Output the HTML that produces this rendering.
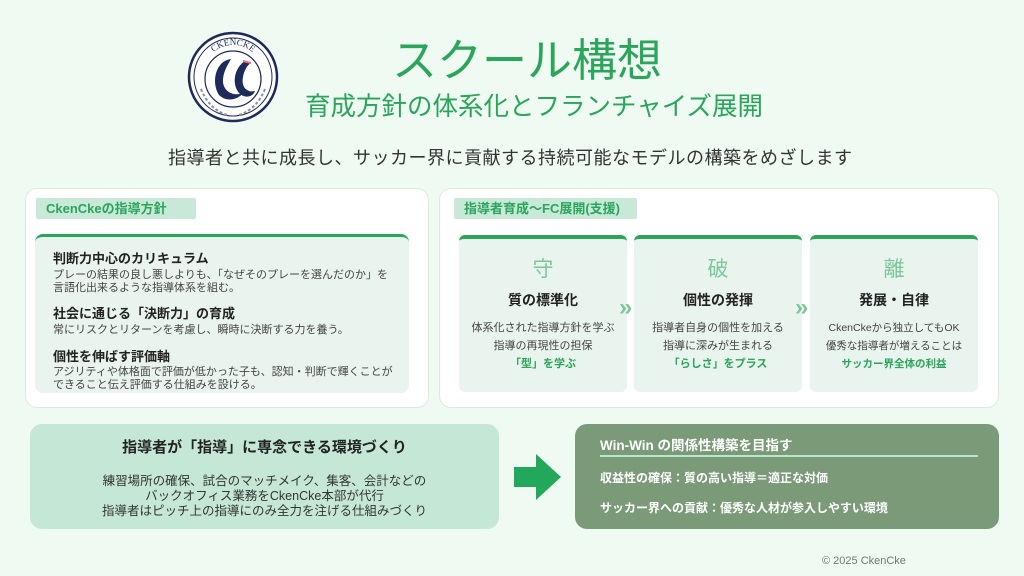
<!DOCTYPE html>
<html><head><meta charset="utf-8"><style>
*{margin:0;padding:0;box-sizing:border-box}
body{width:1024px;height:576px;background:#eefaf2;position:relative;overflow:hidden;font-family:"Liberation Sans","Noto Sans CJK JP",sans-serif;color:#222}
.a{position:absolute;white-space:nowrap}
.c{text-align:center}
.panel{position:absolute;background:#fff;border:1px solid #dcebe2;border-radius:12px}
.lbl{position:absolute;background:#c8e8d8;color:#2aa55a;font-weight:bold;font-size:13px;line-height:21px;padding-left:10px;border-radius:2px}
.inner{position:absolute;background:#eaf4ee;border-top:3px solid #2aa55a;border-radius:8px}
.h{font-weight:bold;font-size:13px;color:#222;line-height:16px}
.b{font-size:11px;color:#444;line-height:12.5px}
.card{position:absolute;top:235px;width:168px;height:157px;background:#eaf4ee;border-top:4px solid #2aa55a;border-radius:6px;text-align:center}
.k{position:absolute;left:0;right:0;top:14px;font-size:21px;color:#7cc79a}
.t{position:absolute;left:0;right:0;top:51px;font-size:14px;font-weight:bold}
.cb{position:absolute;left:0;right:0;top:80px;font-size:11px;color:#444;line-height:18px}
.g{color:#2aa55a;font-weight:bold}
.chev{position:absolute;top:294px;font-size:24px;color:#7cc79a;font-weight:bold}
</style></head><body>

<svg class="a" style="left:187px;top:31px" width="92" height="92" viewBox="0 0 92 92">
<circle cx="46" cy="46" r="44" fill="#fff" stroke="#1d2a5a" stroke-width="2.5"/>
<circle cx="46" cy="46" r="39" fill="none" stroke="#1d2a5a" stroke-width="1"/>
<circle cx="46" cy="48" r="28" fill="none" stroke="#1d2a5a" stroke-width="1.2"/>
<path id="arc" d="M16,44 A30,30 0 0 1 76,44" fill="none"/>
<text font-size="9" fill="#1d2a5a" font-family="Liberation Serif,serif"><textPath href="#arc" startOffset="50%" text-anchor="middle">CKENCKE</textPath></text>
<path d="M44,28 C28,30 24,52 32,64 C40,72 52,68 56,62 C46,66 36,60 36,50 C36,40 42,32 44,28Z" fill="#1d2a5a"/>
<path d="M58,30 C48,36 44,52 52,62 C58,68 66,66 68,60 C60,62 54,56 56,46 C57,40 60,34 64,32Z" fill="#1d2a5a"/>
<path d="M56,30 L64,32" stroke="#e07080" stroke-width="2"/>
<path d="M14,58 Q22,78 40,84 M78,58 Q70,78 52,84" stroke="#8890a8" stroke-width="2" fill="none" stroke-dasharray="3 2"/>
</svg>

<div class="a" style="left:392px;top:34px;font-size:45px;color:#2aa55a;line-height:54px">スクール構想</div>
<div class="a" style="left:305px;top:92px;font-size:25.5px;color:#2aa55a;line-height:30px">育成方針の体系化とフランチャイズ展開</div>
<div class="a" style="left:168px;top:146px;font-size:18px;letter-spacing:0.5px;color:#333;line-height:24px">指導者と共に成長し、サッカー界に貢献する持続可能なモデルの構築をめざします</div>

<div class="panel" style="left:25px;top:188px;width:404px;height:220px"></div>
<div class="lbl" style="left:36px;top:198px;width:160px">CkenCkeの指導方針</div>
<div class="inner" style="left:35px;top:234px;width:374px;height:159px"></div>
<div class="a h" style="left:53px;top:251px">判断力中心のカリキュラム</div>
<div class="a b" style="left:53px;top:269px">プレーの結果の良し悪しよりも、「なぜそのプレーを選んだのか」を<br>言語化出来るような指導体系を組む。</div>
<div class="a h" style="left:53px;top:306px">社会に通じる「決断力」の育成</div>
<div class="a b" style="left:53px;top:324px">常にリスクとリターンを考慮し、瞬時に決断する力を養う。</div>
<div class="a h" style="left:53px;top:349px">個性を伸ばす評価軸</div>
<div class="a b" style="left:53px;top:366px">アジリティや体格面で評価が低かった子も、認知・判断で輝くことが<br>できること伝え評価する仕組みを設ける。</div>

<div class="panel" style="left:439px;top:188px;width:560px;height:220px"></div>
<div class="lbl" style="left:454px;top:198px;width:183px">指導者育成〜FC展開(支援)</div>
<div class="card" style="left:459px"><div class="k">守</div><div class="t">質の標準化</div><div class="cb">体系化された指導方針を学ぶ<br>指導の再現性の担保<br><span class="g">「型」を学ぶ</span></div></div>
<div class="card" style="left:634px"><div class="k">破</div><div class="t">個性の発揮</div><div class="cb">指導者自身の個性を加える<br>指導に深みが生まれる<br><span class="g">「らしさ」をプラス</span></div></div>
<div class="card" style="left:810px"><div class="k">離</div><div class="t">発展・自律</div><div class="cb" style="font-size:10.5px">CkenCkeから独立してもOK<br>優秀な指導者が増えることは<br><span class="g">サッカー界全体の利益</span></div></div>
<div class="chev" style="left:619px">»</div>
<div class="chev" style="left:795px">»</div>

<div class="a" style="left:30px;top:424px;width:469px;height:105px;background:#c5e8d6;border-radius:12px"></div>
<div class="a c" style="left:30px;top:436px;width:469px;font-size:15px;font-weight:bold">指導者が「指導」に専念できる環境づくり</div>
<div class="a c" style="left:30px;top:474px;width:469px;font-size:12.5px;line-height:15px;color:#333">練習場所の確保、試合のマッチメイク、集客、会計などの<br>バックオフィス業務をCkenCke本部が代行<br>指導者はピッチ上の指導にのみ全力を注げる仕組みづくり</div>

<svg class="a" style="left:514px;top:454px" width="48" height="46"><polygon points="0,13 22,13 22,0 47,23 22,46 22,33 0,33" fill="#22a85a"/></svg>

<div class="a" style="left:575px;top:424px;width:424px;height:105px;background:#7a9a78;border-radius:12px"></div>
<div class="a" style="left:600px;top:434px;font-size:13.5px;font-weight:bold;color:#fff">Win-Win の関係性構築を目指す</div>
<div class="a" style="left:600px;top:455px;width:378px;height:2px;background:#b9e6cc"></div>
<div class="a" style="left:600px;top:469px;font-size:12px;font-weight:bold;color:#fff">収益性の確保：質の高い指導＝適正な対価</div>
<div class="a" style="left:600px;top:499px;font-size:12px;font-weight:bold;color:#fff">サッカー界への貢献：優秀な人材が参入しやすい環境</div>

<div class="a" style="left:822px;top:555px;font-size:11px;color:#777">© 2025 CkenCke</div>
</body></html>
